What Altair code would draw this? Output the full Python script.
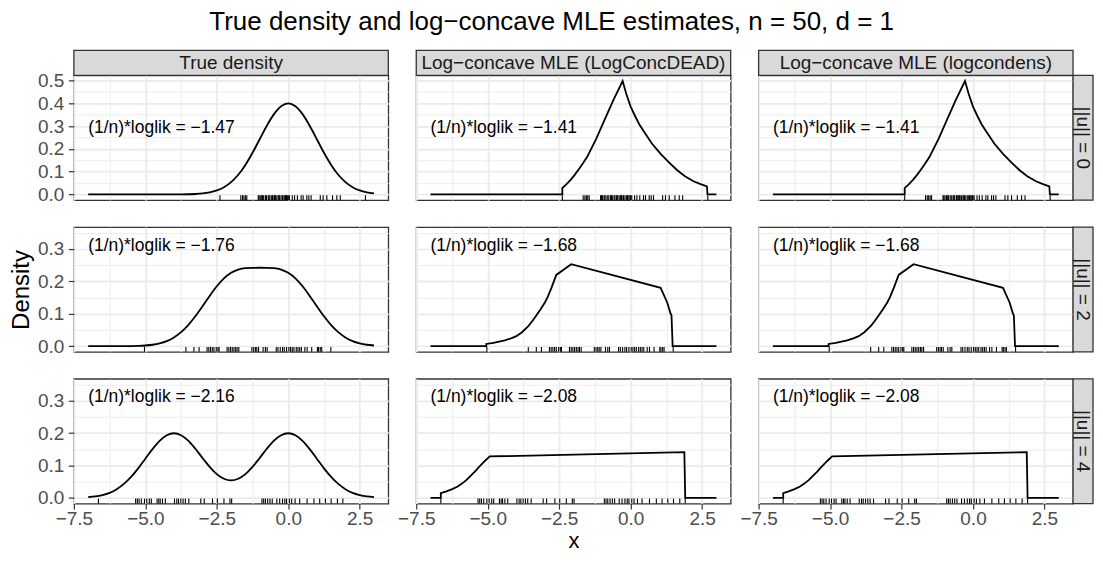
import altair as alt
import pandas as pd

# ---------------- data ----------------
x_true = [-7.0, -6.75, -6.5, -6.25, -6.0, -5.75, -5.5, -5.25, -5.0, -4.75, -4.5, -4.25,
          -4.0, -3.75, -3.5, -3.25, -3.0, -2.75, -2.5, -2.25, -2.0, -1.75, -1.5, -1.25,
          -1.0, -0.75, -0.5, -0.25, 0.0, 0.25, 0.5, 0.75, 1.0, 1.25, 1.5, 1.75, 2.0,
          2.25, 2.5, 2.75, 3.0]
true_u0 = [0.0, 0.0, 0.0, 0.0, 0.0, 0.0, 0.0, 0.0, 0.0, 0.0, 0.0, 0.0,
           0.0001, 0.0004, 0.0009, 0.002, 0.0044, 0.0091, 0.0175, 0.0317, 0.054, 0.0863,
           0.1295, 0.1826, 0.242, 0.3011, 0.3521, 0.3867, 0.3989, 0.3867, 0.3521, 0.3011,
           0.242, 0.1826, 0.1295, 0.0863, 0.054, 0.0317, 0.0175, 0.0091, 0.0044]
true_u2 = [0.0, 0.0, 0.0, 0.0, 0.0001, 0.0002, 0.0004, 0.001, 0.0022, 0.0045, 0.0088, 0.0158,
           0.0271, 0.0434, 0.0652, 0.0923, 0.1232, 0.1551, 0.1848, 0.2092, 0.2265, 0.2365,
           0.2408, 0.2419, 0.242, 0.2419, 0.2408, 0.2365, 0.2265, 0.2092, 0.1848, 0.1551,
           0.1232, 0.0923, 0.0652, 0.0434, 0.0271, 0.0158, 0.0088, 0.0045, 0.0022]
true_u4 = [0.0022, 0.0045, 0.0088, 0.0158, 0.027, 0.0432, 0.0648, 0.0913, 0.121, 0.1506,
           0.1761, 0.1934, 0.1995, 0.1935, 0.1765, 0.1516, 0.1232, 0.0959, 0.0735, 0.059,
           0.054, 0.059, 0.0735, 0.0959, 0.1232, 0.1516, 0.1765, 0.1935, 0.1995, 0.1934,
           0.1761, 0.1506, 0.121, 0.0913, 0.0648, 0.0432, 0.027, 0.0158, 0.0088, 0.0045, 0.0022]

mle_u0_x = [-7.0, -2.39, -2.39, -2.25, -2.1, -1.95, -1.8, -1.65, -1.52, -1.2, -0.9, -0.6,
            -0.28, -0.15, 0.0, 0.15, 0.3, 0.47, 0.75, 1.05, 1.35, 1.63, 1.9, 2.2, 2.45,
            2.67, 2.69, 3.0]
mle_u0_y = [0.0, 0.0, 0.028, 0.044, 0.064, 0.087, 0.113, 0.140, 0.165, 0.245, 0.330, 0.415,
            0.497, 0.440, 0.385, 0.345, 0.308, 0.275, 0.222, 0.178, 0.140, 0.106, 0.080,
            0.058, 0.045, 0.035, 0.0, 0.0]
mle_u2_x = [-7.0, -5.05, -5.05, -4.8, -4.6, -4.4, -4.16, -4.0, -3.8, -3.58, -3.45, -3.3,
            -3.15, -3.0, -2.9, -2.77, -2.6, -2.08, 1.05, 1.28, 1.40, 1.43, 1.47, 3.0]
mle_u2_y = [0.0, 0.0, 0.007, 0.010, 0.014, 0.018, 0.025, 0.031, 0.043, 0.062, 0.076, 0.095,
            0.114, 0.135, 0.152, 0.18, 0.22, 0.253, 0.18, 0.135, 0.10, 0.095, 0.0, 0.0]
mle_u4_x = [-7.0, -6.64, -6.64, -6.45, -6.24, -6.05, -5.89, -5.75, -5.6, -5.45, -5.31,
            -5.2, -5.1, -4.93, 1.88, 1.91, 3.0]
mle_u4_y = [0.0, 0.0, 0.015, 0.020, 0.027, 0.035, 0.045, 0.055, 0.068, 0.081, 0.095,
            0.105, 0.114, 0.128, 0.141, 0.0, 0.0]

rug_u0 = [-2.39, -1.66, -1.60, -1.55, -1.50, -1.45, -1.05, -1.02, -0.98, -0.93, -0.90, -0.86,
          -0.80, -0.76, -0.70, -0.67, -0.64, -0.58, -0.55, -0.50, -0.48, -0.45, -0.40, -0.35,
          -0.32, -0.30, -0.25, -0.20, -0.15, -0.12, -0.10, -0.06, -0.02, 0.0, 0.04, 0.14,
          0.22, 0.32, 0.45, 0.52, 0.65, 0.72, 0.80, 1.12, 1.22, 1.35, 1.55, 1.70, 1.82, 2.70]
rug_u2 = [-5.03, -3.58, -3.30, -3.12, -2.84, -2.78, -2.72, -2.66, -2.60, -2.52, -2.46, -2.42,
          -2.14, -2.08, -2.02, -1.96, -1.90, -1.84, -1.79, -1.73, -1.27, -1.21, -1.15, -1.10,
          -1.04, -0.88, -0.80, -0.74, -0.42, -0.36, -0.28, -0.20, -0.14, -0.06, 0.02, 0.08,
          0.14, 0.20, 0.28, 0.34, 0.40, 0.46, 0.58, 0.66, 0.82, 1.02, 1.06, 1.12, 1.17, 1.49]
rug_u4 = [-6.64, -5.34, -5.28, -5.22, -5.14, -5.03, -4.95, -4.86, -4.79, -4.59, -4.53, -4.48,
          -4.40, -4.30, -3.98, -3.90, -3.84, -3.76, -3.68, -3.60, -3.48, -3.06, -2.94, -2.65,
          -2.48, -2.25, -2.04, -1.98, -0.92, -0.86, -0.80, -0.72, -0.64, -0.56, -0.40, -0.30,
          -0.20, -0.12, -0.06, 0.04, 0.12, 0.24, 0.40, 0.66, 0.90, 1.10, 1.30, 1.50, 1.72, 1.91]

col_titles = ["True density", "Log\u2212concave MLE (LogConcDEAD)", "Log\u2212concave MLE (logcondens)"]
row_titles = ["||u|| = 0", "||u|| = 2", "||u|| = 4"]
loglik_labels = [["\u22121.47", "\u22121.41", "\u22121.41"],
                 ["\u22121.76", "\u22121.68", "\u22121.68"],
                 ["\u22122.16", "\u22122.08", "\u22122.08"]]
label_y = [0.29, 0.31, 0.31]
label_x = -7.0

x_major = [-7.5, -5.0, -2.5, 0.0, 2.5]
x_minor = [-6.25, -3.75, -1.25, 1.25]
y_major = [[0.0, 0.1, 0.2, 0.3, 0.4, 0.5], [0.0, 0.1, 0.2, 0.3], [0.0, 0.1, 0.2, 0.3]]
y_minor = [[0.05, 0.15, 0.25, 0.35, 0.45], [0.05, 0.15, 0.25, 0.35], [0.05, 0.15, 0.25, 0.35]]
y_domains = [[-0.025, 0.522], [-0.0175, 0.3675], [-0.0175, 0.3675]]
x_domain = [-7.5, 3.5]

true_series = [true_u0, true_u2, true_u4]
mle_series = [(mle_u0_x, mle_u0_y), (mle_u2_x, mle_u2_y), (mle_u4_x, mle_u4_y)]
rugs = [rug_u0, rug_u2, rug_u4]

# ---------------- style ----------------
FONT = "Liberation Sans"
W, H = 315, 125
STRIP = 25
RSTRIP = 20
GRID = "#EBEBEB"
DARK = "#333333"
LAB = 19


def panel(r, c):
    if c == 0:
        cdf = pd.DataFrame({"x": x_true, "y": true_series[r]})
        interp = "monotone"
    else:
        mx, my = mle_series[r]
        cdf = pd.DataFrame({"x": mx, "y": my})
        interp = "linear"
    cdf["i"] = range(len(cdf))
    xs = alt.Scale(domain=x_domain, nice=False, zero=False)
    ys = alt.Scale(domain=y_domains[r], nice=False, zero=False)
    bottom = r == 2
    left = c == 0

    xaxis_kw = dict(values=x_major, grid=True, gridColor=GRID, gridWidth=1.8, domain=False,
                    orient="bottom", labelFlush=False)
    if bottom:
        xaxis_kw.update(labels=True, ticks=True, format=".1f", tickSize=5.5, tickWidth=1.2,
                        labelPadding=0, labelFontSize=LAB, titlePadding=2, titleFontSize=22)
        xaxis_kw["title"] = "x" if c == 1 else None
    else:
        xaxis_kw.update(labels=False, ticks=False, title=None)
    yaxis_kw = dict(values=y_major[r], grid=True, gridColor=GRID, gridWidth=1.8, domain=False,
                    orient="left", labelFlush=False)
    if left:
        yaxis_kw.update(labels=True, ticks=True, format=".1f", tickSize=5.5, tickWidth=1.2,
                        labelPadding=4.5, labelFontSize=LAB, titlePadding=4, titleFontSize=24)
        yaxis_kw["title"] = "Density" if r == 1 else None
    else:
        yaxis_kw.update(labels=False, ticks=False, title=None)

    minor = alt.Chart(cdf).mark_point(opacity=0).encode(
        x=alt.X("x:Q", scale=xs, axis=alt.Axis(orient="top", values=x_minor, grid=True,
                                               gridColor=GRID, gridWidth=0.9, labels=False,
                                               ticks=False, domain=False, title=None)),
        y=alt.Y("y:Q", scale=ys, axis=alt.Axis(orient="right", values=y_minor[r], grid=True,
                                               gridColor=GRID, gridWidth=0.9, labels=False,
                                               ticks=False, domain=False, title=None)),
    )
    curve = alt.Chart(cdf).mark_line(color="black", strokeWidth=1.8, interpolate=interp).encode(
        x=alt.X("x:Q", scale=xs, axis=alt.Axis(**xaxis_kw)),
        y=alt.Y("y:Q", scale=ys, axis=alt.Axis(**yaxis_kw)),
        order=alt.Order("i:Q"),
    )
    rug = alt.Chart(pd.DataFrame({"x": rugs[r]})).mark_rule(color="black", strokeWidth=1.1).encode(
        x=alt.X("x:Q", scale=xs, axis=None),
        y=alt.value(H),
        y2=alt.value(H - 5),
    )
    ann = alt.Chart(pd.DataFrame({"x": [label_x], "y": [label_y[r]],
                                  "t": ["(1/n)*loglik = " + loglik_labels[r][c]]})).mark_text(
        align="left", baseline="middle", font=FONT, fontSize=17.5, color="black").encode(
        x=alt.X("x:Q", scale=xs, axis=None),
        y=alt.Y("y:Q", scale=ys, axis=None),
        text="t:N",
    )
    layers = [minor, curve, rug, ann]
    one = pd.DataFrame({"a": [0]})
    if r == 0:
        layers.append(alt.Chart(one).mark_rect(fill="#D9D9D9", stroke=DARK, strokeWidth=1.3).encode(
            x=alt.value(0), x2=alt.value(W), y=alt.value(-STRIP), y2=alt.value(0)))
        layers.append(alt.Chart(one).mark_text(font=FONT, fontSize=19, color="#1A1A1A",
                                               baseline="middle", align="center").encode(
            x=alt.value(W / 2), y=alt.value(-STRIP / 2), text=alt.value(col_titles[c])))
    if c == 2:
        layers.append(alt.Chart(one).mark_rect(fill="#D9D9D9", stroke=DARK, strokeWidth=1.3).encode(
            x=alt.value(W), x2=alt.value(W + RSTRIP), y=alt.value(0), y2=alt.value(H)))
        layers.append(alt.Chart(one).mark_text(font=FONT, fontSize=19, color="#1A1A1A", angle=90,
                                               baseline="middle", align="center").encode(
            x=alt.value(W + RSTRIP / 2), y=alt.value(H / 2), text=alt.value(row_titles[r])))
    return alt.layer(*layers).resolve_axis(x="independent", y="independent").properties(
        width=W, height=H)


panels = [panel(r, c) for r in range(3) for c in range(3)]

chart = alt.concat(*panels, columns=3, spacing={"row": 27, "column": 28}, bounds="flush").properties(
    title=alt.TitleParams(text="True density and log\u2212concave MLE estimates, n = 50, d = 1",
                          font=FONT, fontSize=26, fontWeight="normal", color="black",
                          anchor="middle", offset=14),
    padding={"left": 0, "top": 0, "right": 0, "bottom": 0},
).configure_view(stroke=DARK, strokeWidth=1.3).configure_axis(
    labelFont=FONT, titleFont=FONT, labelColor="#4D4D4D", titleColor="black",
    titleFontWeight="normal", tickColor=DARK
)

chart.save("out.html", embed_options={"renderer": "svg", "actions": False})
